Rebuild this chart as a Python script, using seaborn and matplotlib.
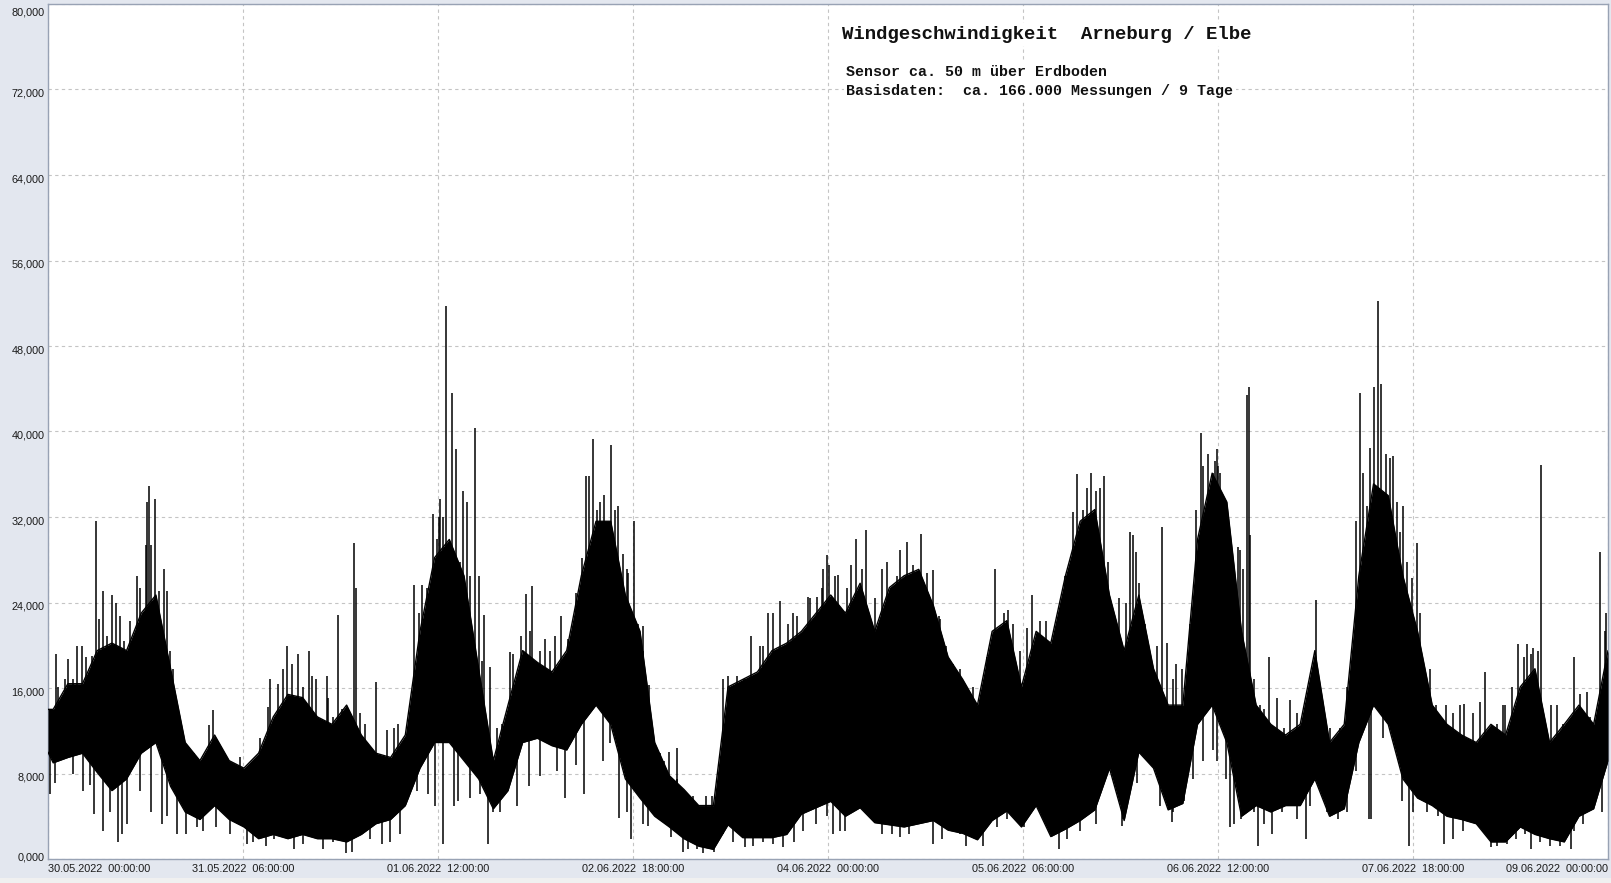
import numpy as np
import pandas as pd
import matplotlib
matplotlib.use("Agg")
import matplotlib.pyplot as plt
import matplotlib.transforms as mtransforms
from matplotlib.ticker import FixedLocator, MultipleLocator, FuncFormatter
import seaborn as sns

# ---------------- data ----------------
# hours since 30.05.2022 00:00 ; envelope of the dense measurement band
sample_hours = [0.0] + [round(0.8 + 2.257 * k, 2) for k in range(106)] + [240.0]
band_upper = [14000, 14000, 16400, 16400, 19500, 20200, 19500, 23000, 24700, 17800,
              10900, 9200, 11600, 9200, 8500, 9900, 13300, 15400, 15100, 13300,
              12600, 14400, 11600, 9900, 9500, 11600, 21300, 28200, 29900, 26500,
              17800, 9200, 14400, 19500, 18400, 17500, 19500, 26500, 31600, 31600,
              24700, 21300, 10900, 7800, 6500, 5000, 5000, 16100, 16800, 17500,
              19500, 20200, 21300, 23000, 24700, 23000, 25800, 21300, 25400, 26500,
              27100, 23700, 18900, 16800, 14400, 21300, 22300, 16100, 21300, 20200,
              26500, 31600, 32700, 24700, 19500, 24700, 17800, 14400, 14400, 29900,
              36100, 33400, 21300, 14400, 12600, 11600, 12600, 19500, 10900, 12600,
              26500, 35100, 34000, 26500, 21300, 14400, 12600, 11600, 10900, 12600,
              11600, 16100, 17800, 10900, 12600, 14400, 12600, 19500]
band_lower = [10000, 9000, 9500, 9900, 8100, 6400, 7500, 9900, 10900, 6800,
              4400, 3700, 5000, 3700, 3000, 1900, 2300, 1900, 2300, 1900,
              1900, 1600, 2300, 3300, 3700, 5000, 8500, 10900, 10900, 9200,
              7500, 4700, 6400, 10900, 11300, 10600, 10200, 12600, 14400, 12600,
              7500, 5700, 4000, 3000, 1900, 1200, 900, 3200, 2000, 2000,
              2000, 2300, 4200, 4800, 5400, 4000, 4800, 3400, 3200, 3000,
              3300, 3600, 2700, 2400, 1800, 3600, 4500, 3000, 5000, 2100,
              2800, 3600, 4600, 8500, 3600, 10000, 8500, 4600, 5200, 12600,
              14400, 10900, 4000, 5000, 4400, 5000, 5000, 7500, 4000, 4700,
              10900, 14400, 12600, 7500, 5700, 5000, 4000, 3700, 3300, 1600,
              1600, 3000, 2300, 1900, 1600, 4000, 4700, 9200]

# tall single gusts above the band
peak_hours = [1.3, 4.4, 7.4, 8.5, 9.8, 11.0, 13.7, 15.0, 15.3, 15.6, 16.5, 17.8, 18.3, 19.2,
              25.4, 29.6, 34.1, 36.7, 38.5, 40.1, 42.9, 44.6, 47.0, 47.4, 50.5, 53.2,
              56.3, 57.6, 59.3, 60.2, 60.3, 61.2, 62.1, 62.8, 63.9, 64.4, 65.7, 66.3,
              67.1, 68.0, 71.0, 72.7, 73.5, 74.5, 76.5, 78.9, 81.3, 82.7, 83.3, 83.9,
              85.5, 86.6, 87.7, 89.0, 90.2, 91.5, 92.4, 95.5, 96.7, 99.3, 101.3, 104.6,
              108.2, 109.5, 110.8, 112.6, 114.6, 116.9, 118.3, 119.8, 120.1, 121.6,
              124.3, 125.8, 129.0, 131.1, 132.2, 134.3, 136.2, 137.2, 139.2, 142.3,
              144.4, 145.7, 147.7, 151.4, 153.6, 156.5, 157.7, 158.3, 160.4, 161.3,
              162.5, 164.7, 166.5, 167.4, 171.4, 173.6, 175.7, 176.6, 177.4, 178.5,
              179.6, 179.9, 180.8, 183.0, 183.4, 184.4, 184.7, 184.9, 186.5, 187.8,
              191.1, 194.2, 195.1, 199.8, 201.8, 202.9, 204.0, 204.6, 205.1, 205.9,
              206.9, 208.0, 208.4, 209.8, 210.6, 211.6, 215.1, 217.8, 221.1, 224.2,
              226.2, 227.5, 228.5, 229.7, 232.1, 234.8, 236.7, 238.8, 239.7]
peak_values = [19200, 19900, 31600, 25100, 24700, 22700, 26500, 29400, 33400, 34900, 33700,
               27100, 25100, 17800, 13900, 9500, 16800, 19900, 19200, 19500, 17100, 22800,
               29600, 25400, 16600, 12300, 25600, 25600, 32300, 32000, 33700, 51700, 43600,
               38400, 34400, 33400, 40300, 26500, 22800, 18000, 19400, 20900, 24800, 25500,
               20600, 22700, 24900, 35800, 35800, 39300, 34100, 38700, 33000, 27100, 31600,
               21800, 16300, 10000, 10400, 5900, 5900, 17100, 20900, 19900, 23000, 24100,
               23000, 24500, 24500, 28400, 27500, 26600, 29900, 30800, 27800, 28900, 29700,
               30400, 27000, 22500, 18200, 16100, 18900, 27100, 23300, 24700, 22300, 26500,
               32500, 36000, 36100, 34400, 35800, 24400, 30600, 28700, 31100, 18200, 22000,
               32700, 39900, 37900, 37200, 38400, 33000, 29200, 28900, 43400, 44200, 30300,
               14400, 18900, 14900, 14400, 24200, 16100, 43600, 33000, 44200, 52200, 44400,
               37900, 37700, 30600, 33000, 26300, 29600, 17800, 14400, 14500, 17500, 14400,
               20100, 20100, 19700, 36900, 14400, 18900, 15600, 28700, 23000]

# smaller gusts along the top edge of the band
gust_hours = [1.6, 2.6, 3.1, 3.9, 5.3, 5.9, 6.7, 7.9, 9.0, 10.5, 11.7, 12.6, 14.2, 15.9,
              17.1, 18.8, 20.8, 22.4, 24.7, 26.5, 28.5, 32.6, 33.9, 35.4, 36.1, 37.5,
              39.3, 40.6, 41.3, 43.1, 43.9, 45.2, 48.0, 48.8, 52.1, 53.9, 55.2, 57.0,
              58.3, 59.8, 60.8, 63.4, 64.9, 66.7, 69.0, 69.8, 71.6, 74.2, 75.7, 77.2,
              78.0, 80.0, 80.8, 82.1, 84.4, 84.9, 87.2, 88.5, 89.3, 90.8, 91.6, 94.2,
              94.7, 96.7, 98.3, 99.8, 102.1, 103.9, 106.0, 107.0, 110.0, 111.6, 113.9,
              115.2, 117.2, 119.3, 119.0, 121.1, 122.9, 123.6, 125.2, 127.2, 128.3,
              129.8, 130.6, 133.1, 135.2, 137.0, 138.2, 140.3, 141.3, 143.4, 145.0,
              147.0, 148.5, 149.5, 150.6, 152.6, 154.7, 157.0, 159.3, 159.8, 161.8,
              163.1, 163.9, 165.9, 166.9, 167.9, 168.8, 169.5, 170.6, 172.1, 173.1,
              174.4, 177.7, 179.3, 180.0, 180.3, 181.3, 182.6, 183.9, 185.5, 187.0,
              189.0, 190.1, 192.1, 193.1, 194.2, 196.2, 197.2, 198.8, 200.6, 201.3,
              202.3, 203.4, 206.4, 207.5, 209.0, 211.1, 212.6, 213.6, 216.2, 217.2,
              219.3, 220.3, 222.9, 223.9, 225.2, 227.0, 228.2, 229.3, 231.3, 233.1,
              235.7, 237.2, 239.5]
gust_values = [16100, 16800, 18700, 16800, 19900, 18900, 19000, 22500, 20900, 24000, 20400,
               22300, 25400, 29400, 25100, 19500, 10900, 9900, 12500, 10600, 8500, 11300,
               14200, 16400, 17800, 18200, 16100, 17100, 16800, 15100, 13300, 14000, 13700,
               12600, 12100, 12600, 11300, 23000, 25400, 29900, 32000, 27800, 26500, 18500,
               12300, 12600, 19200, 21300, 19500, 19500, 20900, 20600, 21600, 28200, 32700,
               33400, 32700, 28500, 26800, 22000, 19500, 9900, 9200, 7500, 5000, 4700,
               5900, 16800, 17100, 16800, 19900, 23000, 22000, 22700, 24400, 27100, 25400,
               26500, 25400, 27500, 27100, 24400, 27100, 24700, 26500, 27500, 26800, 22700,
               19900, 17800, 16100, 14700, 18900, 23000, 22000, 19500, 21600, 22300, 18900,
               27100, 32700, 34700, 34700, 27800, 23000, 24000, 30300, 25800, 22000, 16800,
               19900, 20200, 16800, 17800, 36800, 36100, 36800, 36100, 28200, 23700, 27100,
               16800, 14000, 15100, 12300, 13700, 12600, 16400, 12600, 12300, 12300, 15800,
               31600, 36100, 38500, 37500, 33400, 27800, 23000, 17800, 14400, 13700, 14400,
               13700, 14700, 12600, 14400, 16100, 18900, 19200, 19500, 14400, 12600, 15400,
               13300, 21300]

# single lulls below the band
dip_hours = [0.3, 7.1, 8.5, 10.7, 11.4, 15.9, 17.5, 19.8, 23.9, 30.6, 37.8, 42.3, 45.9,
             51.4, 60.8, 67.7, 74.0, 79.6, 82.4, 87.9, 89.7, 92.3, 97.7, 100.7, 107.2,
             113.1, 121.9, 131.1, 136.2, 143.9, 155.6, 165.2, 172.9, 181.8, 186.2,
             193.5, 203.6, 209.4, 214.8, 222.0, 228.1, 234.3,
             1.1, 3.9, 5.4, 6.5, 9.5, 12.1, 14.2, 18.3, 21.3, 22.9, 25.9, 28.0, 31.6,
             33.6, 34.7, 39.3, 40.8, 43.9, 46.7, 49.5, 52.6, 54.2, 56.7, 58.5,
             59.5, 62.4, 63.1, 64.9, 66.5, 68.5, 69.5, 72.1, 75.7, 78.3, 81.3, 85.4,
             86.5, 89.0, 91.6, 94.2, 95.9, 98.5, 99.8, 102.4, 103.9, 105.4, 108.5,
             110.0, 111.6, 114.7, 116.2, 118.2,
             119.8, 120.8, 122.6, 126.5, 128.3, 129.8, 132.4, 134.2, 137.5, 138.8,
             140.3, 141.3, 142.9, 146.0, 147.5, 150.1, 151.6, 154.7, 156.7, 158.8,
             161.3, 163.4, 165.4, 167.5, 169.5, 171.1, 173.1, 174.7, 176.2, 177.7,
             179.3, 179.8, 181.3, 182.4, 183.6, 185.5, 187.0, 188.3, 189.8, 192.1,
             194.2, 196.7, 198.5, 199.8, 201.3, 203.3, 205.4, 207.2, 208.3, 210.0,
             212.1, 213.9, 216.2, 217.7, 219.8, 222.9, 224.4, 225.9, 227.2, 229.5,
             231.0, 232.6, 234.7, 236.2, 237.7, 239.0]
dip_values = [6100, 4200, 2600, 1600, 2300, 4400, 3300, 2300, 2600, 1400, 900, 900, 550,
              1400, 1400, 1400, 6800, 5700, 6100, 3800, 1900, 3100, 700, 550, 1100,
              1100, 2600, 2100, 1400, 1200, 900, 3100, 3500, 3000, 1200,
              1900, 3700, 1200, 1400, 1100, 900, 900,
              7100, 8000, 6400, 6900, 4400, 3300, 6400, 4000, 2300, 3000, 3000, 2300, 1600,
              1200, 1900, 1400, 2300, 1600, 700, 1900, 1600, 2300, 6400, 6100,
              5000, 5000, 5400, 5700, 6100, 4400, 4400, 5000, 7800, 8200, 8800, 9200,
              10900, 4400, 3300, 3800, 2100, 900, 900, 700, 2300, 1600, 1200,
              1600, 1400, 1600, 2600, 3300,
              4000, 2300, 2600, 4000, 2300, 2300, 2300, 3300, 1900, 3000,
              2300, 1200, 1900, 3000, 3700, 3000, 5000, 2600, 1900, 2600,
              3300, 9200, 3700, 7100, 9500, 5000, 4400, 5400, 7500, 9200,
              10200, 9200, 7500, 3300, 3700, 4400, 3300, 2300, 4400, 3700,
              5000, 4400, 3700, 4400, 8200, 3700, 11300, 12600, 5400, 4400,
              4400, 4000, 1900, 2600, 4000, 1200, 1400, 1900, 2300, 1600,
              1200, 1200, 2600, 3300, 5000, 4400]

tick_hours = [0, 30, 60, 90, 120, 150, 180, 210, 240]
tick_labels = ["30.05.2022  00:00:00", "31.05.2022  06:00:00", "01.06.2022  12:00:00",
               "02.06.2022  18:00:00", "04.06.2022  00:00:00", "05.06.2022  06:00:00",
               "06.06.2022  12:00:00", "07.06.2022  18:00:00", "09.06.2022  00:00:00"]
y_ticks = [0, 8000, 16000, 24000, 32000, 40000, 48000, 56000, 64000, 72000, 80000]

title_lines = ["Windgeschwindigkeit  Arneburg / Elbe",
               "Sensor ca. 50 m über Erdboden",
               "Basisdaten:  ca. 166.000 Messungen / 9 Tage"]

# ---------------- figure ----------------
sns.set_theme(style="white")
plt.rcParams["font.family"] = ["Liberation Sans", "DejaVu Sans"]

W, H = 1611, 883
fig = plt.figure(figsize=(W / 100, H / 100), dpi=100, facecolor="#e3e7ef")
fig.patches.append(plt.Rectangle((0, 0), 1, 5 / H, transform=fig.transFigure,
                                 facecolor="#f0f0f0", edgecolor="none", zorder=0))
ax = fig.add_axes([48 / W, 1 - 859 / H, (1608 - 48) / W, (859 - 4) / H])
ax.set_facecolor("white")

df_band = pd.DataFrame({"hours": sample_hours, "upper": band_upper, "lower": band_lower})
ax.fill_between(df_band["hours"], df_band["lower"], df_band["upper"],
                color="black", linewidth=0, zorder=3)
sns.lineplot(data=df_band, x="hours", y="upper", color="black", linewidth=1.0, ax=ax, zorder=3)
sns.lineplot(data=df_band, x="hours", y="lower", color="black", linewidth=1.0, ax=ax, zorder=3)

up_t = np.array(peak_hours + gust_hours)
up_v = np.array(peak_values + gust_values)
up_base = np.interp(up_t, sample_hours, band_upper) * 0.8
ax.vlines(up_t, np.minimum(up_base, up_v), up_v, color="black", linewidth=1.1, zorder=3)
dp_t = np.array(dip_hours)
dp_v = np.array(dip_values)
dp_base = np.interp(dp_t, sample_hours, band_lower) * 1.25 + 600
ax.vlines(dp_t, dp_v, np.maximum(dp_base, dp_v), color="black", linewidth=1.1, zorder=3)

ax.set_xlim(0, 240)
ax.set_ylim(0, 80000)
ax.set_xlabel("")
ax.set_ylabel("")

ax.xaxis.set_major_locator(FixedLocator(tick_hours))
ax.xaxis.set_minor_locator(MultipleLocator(7.5))
ax.set_xticklabels(tick_labels)
ax.yaxis.set_major_locator(FixedLocator(y_ticks))
ax.yaxis.set_minor_locator(MultipleLocator(2000))
ax.yaxis.set_major_formatter(FuncFormatter(lambda v, p: f"{int(v) // 1000},{0:03d}"))

ax.tick_params(axis="both", which="both", direction="in", color="#c8ccd4", width=0.8, length=5)
ax.tick_params(axis="x", which="major", labelsize=7.8, pad=3.5, labelcolor="#1a1a1a")
ax.tick_params(axis="y", which="major", labelsize=7.8, pad=2.5, labelcolor="#1a1a1a")

ax.grid(True, which="major", color="#c4c4c4", linestyle=(0, (3, 3)), linewidth=0.8, zorder=1)
ax.set_axisbelow(True)
for s in ax.spines.values():
    s.set_color("#98a2b4")
    s.set_linewidth(1.0)

xl = ax.get_xticklabels()
xl[0].set_horizontalalignment("left")
xl[-1].set_horizontalalignment("right")
yl = ax.get_yticklabels()
shift = mtransforms.ScaledTranslation(0, -2.5 / 72, fig.dpi_scale_trans)
for lab in yl:
    lab.set_transform(lab.get_transform() + shift)
yl[0].set_verticalalignment("bottom")
yl[-1].set_verticalalignment("top")

mono = ["Liberation Mono", "DejaVu Sans Mono"]
fig.text(842.5 / W, 1 - 34.5 / H, title_lines[0], family=mono, fontsize=13.7,
         fontweight="bold", va="center", ha="left", color="#111111",
         bbox=dict(facecolor="white", edgecolor="none", pad=2))
fig.text(846.5 / W, 1 - 71.5 / H, title_lines[1], family=mono, fontsize=10.8,
         fontweight="bold", va="center", ha="left", color="#111111",
         bbox=dict(facecolor="white", edgecolor="none", pad=2))
fig.text(846.5 / W, 1 - 91.5 / H, title_lines[2], family=mono, fontsize=10.8,
         fontweight="bold", va="center", ha="left", color="#111111",
         bbox=dict(facecolor="white", edgecolor="none", pad=2))

fig.savefig("out.png", dpi=100, facecolor=fig.get_facecolor())
